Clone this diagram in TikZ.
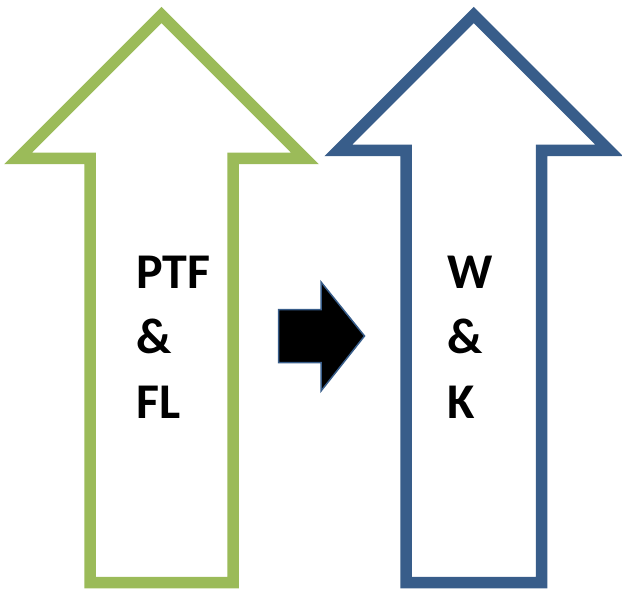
\documentclass[tikz,border=0pt]{standalone}
\usepackage{fontspec}
\setmainfont{Carlito}
\definecolor{ogreen}{HTML}{9BBB59}
\definecolor{oblue}{HTML}{385D8A}
\begin{document}
\begin{tikzpicture}[x=1pt,y=-1pt,
  bigarrow/.style={line width=11.5pt,miter limit=10,line join=miter,fill=white},
  lbl/.style={anchor=base west,inner sep=0pt,font=\fontsize{50}{60}\selectfont\bfseries}]
\useasboundingbox (0,0) rectangle (622,591);
% green arrow
\draw[bigarrow,draw=ogreen] (90,582.5) -- (90,158.5) -- (18,158.5) -- (161.5,15) -- (305,158.5) -- (233,158.5) -- (233,582.5) -- cycle;
% blue arrow
\draw[bigarrow,draw=oblue] (406,582.5) -- (406,150.5) -- (338.25,150.5) -- (473.75,15) -- (609.25,150.5) -- (541.5,150.5) -- (541.5,582.5) -- cycle;
% middle black arrow
\draw[draw=oblue,line width=1.5pt,fill=black,line join=miter] (278.5,309.5) -- (321,309.5) -- (321,282) -- (364.5,336) -- (321,391) -- (321,362.5) -- (278.5,362.5) -- cycle;
% labels
\node[lbl] (ptf) at (136,288) {PTF};
\node[lbl] (amp1) at (136,353) {\&};
\node[lbl] (fl) at (136,418) {FL};
\node[lbl] (w) at (447,288) {W};
\node[lbl] (amp2) at (447,353) {\&};
\node[lbl] (k) at (447,418) {K};
\end{tikzpicture}
\end{document}
